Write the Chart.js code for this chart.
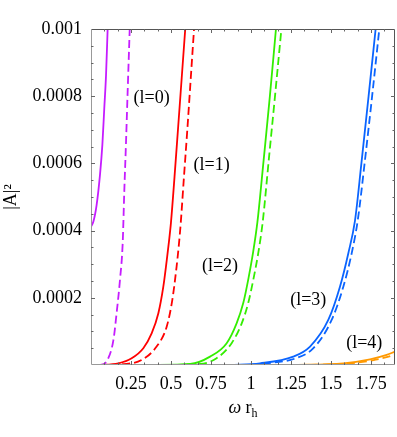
<!DOCTYPE html>
<html>
<head>
<meta charset="utf-8">
<script src="https://cdn.jsdelivr.net/npm/chart.js@4.4.0/dist/chart.umd.min.js"></script>
<style>
  body { margin: 0; background: #fff; }
  #wrap { width: 397px; height: 437px; }
</style>
</head>
<body>
<div id="wrap"><canvas id="absorption" width="397" height="437"></canvas></div>
<script>
// tick labels
let xTicks = [0.25, 0.5, 0.75, 1, 1.25, 1.5, 1.75];
let yTicks = [0.0002, 0.0004, 0.0006, 0.0008, 0.001];

// l = 0
let l0SolidW = [0, 0.015, 0.035, 0.056, 0.071, 0.083, 0.094, 0.104];
let l0SolidA = [0.000412, 0.000427, 0.000476, 0.000565, 0.000655, 0.000764, 0.000863, 0.001];
let l0DashW = [0.05, 0.077, 0.108, 0.14, 0.16, 0.181, 0.198, 0.208, 0.219, 0.229, 0.242];
let l0DashA = [0, 0.000002, 0.00002, 0.000074, 0.000154, 0.000253, 0.000362, 0.000516, 0.000665, 0.000813, 0.001];

// l = 1
let l1SolidW = [0.044, 0.171, 0.254, 0.327, 0.379, 0.421, 0.452, 0.473, 0.488, 0.5, 0.522, 0.545, 0.567, 0.589];
let l1SolidA = [0, 0.000005, 0.00002, 0.00005, 0.000094, 0.000154, 0.000233, 0.00031, 0.00037, 0.000425, 0.00056, 0.00071, 0.000855, 0.001];
let l1DashW = [0.12, 0.192, 0.317, 0.41, 0.473, 0.508, 0.535, 0.55, 0.5605, 0.581, 0.602, 0.623, 0.644];
let l1DashA = [0, 0.000002, 0.000015, 0.000055, 0.000114, 0.000193, 0.000293, 0.000362, 0.00042, 0.00056, 0.0007, 0.00085, 0.001];

// l = 2
let l2SolidW = [0.38, 0.62, 0.744, 0.848, 0.91, 0.952, 0.985, 1.013, 1.04, 1.079, 1.118, 1.156];
let l2SolidA = [0, 0.000003, 0.000025, 0.000065, 0.000124, 0.000185, 0.00026, 0.000335, 0.000425, 0.00061, 0.0008, 0.001];
let l2DashW = [0.45, 0.681, 0.785, 0.879, 0.942, 0.983, 1.017, 1.046, 1.073, 1.113, 1.152, 1.19];
let l2DashA = [0, 0.000003, 0.00002, 0.000065, 0.000124, 0.000185, 0.00026, 0.000335, 0.000425, 0.00062, 0.00081, 0.001];

// l = 3
let l3SolidW = [0.87, 1.056, 1.264, 1.369, 1.483, 1.556, 1.608, 1.65, 1.69, 1.735, 1.779];
let l3SolidA = [0, 0.000005, 0.000025, 0.000055, 0.000134, 0.000233, 0.000332, 0.00043, 0.0006, 0.0008, 0.001];
let l3DashW = [1.0, 1.1, 1.28, 1.39, 1.504, 1.577, 1.629, 1.667, 1.71, 1.757, 1.802];
let l3DashA = [0, 0.000005, 0.00002, 0.00005, 0.000134, 0.000233, 0.000332, 0.00043, 0.0006, 0.0008, 0.001];

// l = 4
let l4SolidW = [1.25, 1.577, 1.744, 1.848, 1.9];
let l4SolidA = [0, 0.000005, 0.000017, 0.00003, 0.00004];
let l4DashW = [1.3, 1.6, 1.76, 1.86, 1.9];
let l4DashA = [0, 0.000004, 0.000014, 0.000025, 0.000032];

let labelText = ["(l=0)", "(l=1)", "(l=2)", "(l=3)", "(l=4)"];
let labelW = [0.379, 0.754, 0.806, 1.358, 1.708];
let labelA = [0.000794, 0.000595, 0.000293, 0.000193, 0.000065];

let colors = ["#c51cff", "#ff0000", "#33ee00", "#0a64ff", "#ff9900"];

function pts(ws, as) {
    return ws.map((w, i) => ({ x: w, y: as[i] }));
}

function curve(ws, as, color, dashed) {
    return {
        data: pts(ws, as),
        borderColor: color,
        borderWidth: 1.8,
        borderDash: dashed ? [8, 4] : [],
        pointRadius: 0,
        fill: false,
        cubicInterpolationMode: "monotone",
        clip: 0,
    };
}

let serif = "'Liberation Serif', 'DejaVu Serif', serif";

let framePlugin = {
    id: "frame",
    afterDraw(chart) {
        let ctx = chart.ctx;
        let a = chart.chartArea;
        let xs = chart.scales.x;
        let ys = chart.scales.y;
        ctx.save();

        // frame
        ctx.lineWidth = 1;
        ctx.strokeStyle = "#555";
        ctx.beginPath();
        ctx.moveTo(a.left, a.top + 0.5);
        ctx.lineTo(a.right - 0.5, a.top + 0.5);
        ctx.lineTo(a.right - 0.5, a.bottom);
        ctx.stroke();
        ctx.strokeStyle = "#999";
        ctx.beginPath();
        ctx.moveTo(a.left + 0.5, a.top);
        ctx.lineTo(a.left + 0.5, a.bottom - 0.5);
        ctx.lineTo(a.right, a.bottom - 0.5);
        ctx.stroke();

        // inner ticks
        ctx.strokeStyle = "#666";
        ctx.beginPath();
        for (let k = 1; k * 0.25 / 3 < 1.9; k++) {
            let px = Math.round(xs.getPixelForValue(k * 0.25 / 3)) + 0.5;
            let len = k % 3 === 0 ? 4 : 2.5;
            ctx.moveTo(px, a.bottom); ctx.lineTo(px, a.bottom - len);
            ctx.moveTo(px, a.top); ctx.lineTo(px, a.top + len);
        }
        for (let k = 1; k < 20; k++) {
            let py = Math.round(ys.getPixelForValue(k * 0.00005)) + 0.5;
            let len = k % 4 === 0 ? 4 : 2.5;
            ctx.moveTo(a.left, py); ctx.lineTo(a.left + len, py);
            ctx.moveTo(a.right, py); ctx.lineTo(a.right - len, py);
        }
        ctx.stroke();

        // curve labels
        ctx.fillStyle = "#000";
        ctx.font = "18px " + serif;
        ctx.textAlign = "center";
        ctx.textBaseline = "middle";
        labelText.forEach((t, i) => {
            ctx.fillText(t, xs.getPixelForValue(labelW[i]), ys.getPixelForValue(labelA[i]));
        });

        // x title: omega r_h
        ctx.textAlign = "left";
        ctx.textBaseline = "alphabetic";
        let cx = (a.left + a.right) / 2;
        let base = 413;
        ctx.font = "italic 18px " + serif;
        let w1 = ctx.measureText("\u03c9 ").width;
        ctx.font = "18px " + serif;
        let w2 = ctx.measureText("r").width;
        ctx.font = "12px " + serif;
        let w3 = ctx.measureText("h").width;
        let x0 = cx - (w1 + w2 + w3) / 2;
        ctx.font = "italic 18px " + serif;
        ctx.fillText("\u03c9 ", x0, base);
        ctx.font = "18px " + serif;
        ctx.fillText("r", x0 + w1, base);
        ctx.font = "12px " + serif;
        ctx.fillText("h", x0 + w1 + w2, base + 4);
        ctx.restore();
    },
};

let absorptionChart = new Chart(document.getElementById("absorption").getContext("2d"), {

    type: "line",

    data: {
        datasets: [
            curve(l0SolidW, l0SolidA, colors[0], false),
            curve(l0DashW, l0DashA, colors[0], true),
            curve(l1SolidW, l1SolidA, colors[1], false),
            curve(l1DashW, l1DashA, colors[1], true),
            curve(l2SolidW, l2SolidA, colors[2], false),
            curve(l2DashW, l2DashA, colors[2], true),
            curve(l3SolidW, l3SolidA, colors[3], false),
            curve(l3DashW, l3DashA, colors[3], true),
            curve(l4SolidW, l4SolidA, colors[4], false),
            curve(l4DashW, l4DashA, colors[4], true),
        ],
    },

    options: {
        responsive: false,
        animation: false,
        layout: { padding: { top: 29, right: 2, left: 0, bottom: 0 } },
        plugins: {
            legend: { display: false },
            tooltip: { enabled: false },
        },
        scales: {
            x: {
                type: "linear",
                min: 0,
                max: 1.9,
                grid: { display: false, drawTicks: false },
                border: { display: false },
                afterBuildTicks: (s) => { s.ticks = xTicks.map((v) => ({ value: v })); },
                afterFit: (s) => { s.height = 72; },
                ticks: {
                    autoSkip: false,
                    maxRotation: 0,
                    padding: 8,
                    color: "#000",
                    font: { family: serif, size: 18 },
                    callback: (v) => String(+v.toFixed(2)),
                },
            },
            y: {
                min: 0,
                max: 0.001,
                grid: { display: false, drawTicks: false },
                border: { display: false },
                afterBuildTicks: (s) => { s.ticks = yTicks.map((v) => ({ value: v })); },
                afterFit: (s) => { s.width = 91; },
                title: {
                    display: true,
                    text: "|A|\u00b2",
                    color: "#000",
                    font: { family: serif, size: 18 },
                    padding: { top: 0, bottom: 0 },
                },
                ticks: {
                    autoSkip: false,
                    padding: 9,
                    color: "#000",
                    font: { family: serif, size: 18 },
                    callback: (v) => String(+v.toFixed(4)),
                },
            },
        },
    },

    plugins: [framePlugin],
})
</script>
</body>
</html>
